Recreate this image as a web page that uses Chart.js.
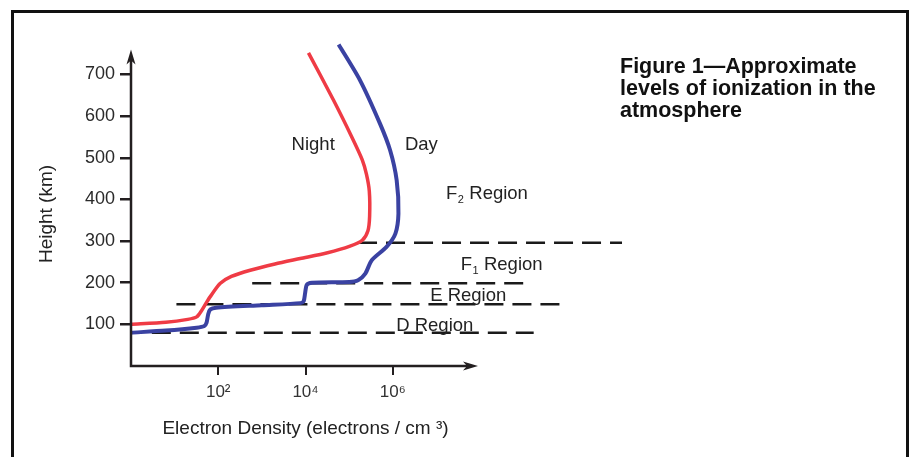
<!DOCTYPE html>
<html>
<head>
<meta charset="utf-8">
<script src="https://cdn.jsdelivr.net/npm/chart.js@4.4.1/dist/chart.umd.min.js"></script>
<style>
  html, body { margin: 0; padding: 0; background: #fff; }
  #wrap   { position: relative; width: 911px; height: 457px; overflow: hidden; }
  #frame  { position: absolute; left: 11px; top: 10px; width: 892px; height: 480px; border: 3px solid #111; }
  #chart  { position: absolute; left: 0; top: 0; }
</style>
</head>
<body>
<div id="wrap">
  <div id="frame"></div>
  <canvas id="chart" width="911" height="457"></canvas>
</div>
<script>
const FONT = '"Liberation Sans", Arial, Helvetica, sans-serif';
const INK  = '#231f20';

/* ─────────────────────────────────────────────
 * DATA  (electron density in electrons/cm³, height in km)
 * ───────────────────────────────────────────── */
const nightDensity = [1, 6.3, 20, 32, 42, 52, 65, 110, 200, 540, 2000, 7600, 3.2e4, 1.05e5, 2e5, 2.7e5, 2.95e5, 2.9e5, 2.5e5, 2e5, 1.15e5, 4.4e4, 1.17e4];
const nightHeight  = [100, 105, 112, 118, 134, 150, 166, 198, 215, 230, 245, 258, 272, 288, 302, 325, 360, 420, 460, 495, 550, 638, 752];

const dayDensity = [1, 6.3, 32, 48, 54, 59, 66, 89, 1000, 7600, 9100, 9800, 1.07e4, 1.4e4, 1e5, 1.6e5, 2.35e5, 3.3e5, 7.2e5, 1.15e6, 1.35e6, 1.23e6, 8.7e5, 5.1e5, 1.78e5, 5.75e4];
const dayHeight  = [80, 85, 92, 96, 104, 125, 136, 140, 146, 151, 156, 175, 195, 200, 202, 206, 222, 254, 286, 318, 366, 446, 518, 582, 686, 772];

// region boundaries (dashed): height, first and last density reached by the dashes
const boundaryHeight = [296, 199, 148, 80];
const boundaryStart  = [1.6e5, 600, 11, 3];
const boundaryEnd    = [1.8e11, 1.55e9, 7.6e9, 1.7e9];

const xTickValues = [1e2, 1e4, 1e6];
const xTickLabels = ['10²', '10⁴', '10⁶'];
const yTickValues = [100, 200, 300, 400, 500, 600, 700];

const titleLines = ['Figure 1—Approximate', 'levels of ionization in the', 'atmosphere'];

// text placed in data units
const curveNotes = [
  { text: 'Night', x: 4800,  y: 518 },
  { text: 'Day',   x: 1.9e6, y: 518 },
];
const regionNotes = [
  { main: 'F', sub: '2', rest: 'Region', x: 1.66e7, y: 400 },
  { main: 'F', sub: '1', rest: 'Region', x: 3.6e7,  y: 230 },
  { main: 'E Region', x: 7.2e6, y: 156 },
  { main: 'D Region', x: 1.2e6, y: 85 },
];

const toPoints = (xs, ys) => xs.map((v, i) => ({ x: v, y: ys[i] }));

/* ─────────────────────────────────────────────
 * DATASETS
 * ───────────────────────────────────────────── */
const datasets = [
  {
    label: 'Day',
    data: toPoints(dayDensity, dayHeight),
    borderColor: '#3a42a2',
    borderWidth: 4,
    tension: 0.25,
    order: 0,
  },
  {
    label: 'Night',
    data: toPoints(nightDensity, nightHeight),
    borderColor: '#ef3b45',
    borderWidth: 3.5,
    tension: 0.25,
    order: 0,
  },
];

boundaryHeight.forEach((h, i) => {
  datasets.push({
    label: 'boundary' + i,
    data: [{ x: boundaryStart[i], y: h }, { x: boundaryEnd[i], y: h }],
    borderColor: '#1a1a1a',
    borderWidth: 2.5,
    borderDash: [19, 9],
    tension: 0,
    order: 1,
  });
});

/* ─────────────────────────────────────────────
 * AXES + ANNOTATIONS
 * ───────────────────────────────────────────── */
const decorations = {
  id: 'decorations',
  afterDraw(chart) {
    const { ctx, scales: { x, y } } = chart;
    ctx.save();

    // axis lines with arrow heads
    const x0 = x.getPixelForValue(1);
    const y0 = y.getPixelForValue(0);
    const xTip = x.getPixelForValue(9e7);
    const yTip = y.getPixelForValue(760);
    ctx.strokeStyle = INK;
    ctx.fillStyle = INK;
    ctx.lineWidth = 2.5;
    ctx.beginPath();
    ctx.moveTo(x0 - 1.25, y0);
    ctx.lineTo(xTip - 8, y0);
    ctx.moveTo(x0, y0);
    ctx.lineTo(x0, yTip + 8);
    ctx.stroke();

    ctx.beginPath();
    ctx.moveTo(xTip, y0);
    ctx.lineTo(xTip - 15, y0 - 4.5);
    ctx.lineTo(xTip - 11, y0);
    ctx.lineTo(xTip - 15, y0 + 4.5);
    ctx.closePath();
    ctx.fill();

    ctx.beginPath();
    ctx.moveTo(x0, yTip);
    ctx.lineTo(x0 - 4.5, yTip + 15);
    ctx.lineTo(x0, yTip + 11);
    ctx.lineTo(x0 + 4.5, yTip + 15);
    ctx.closePath();
    ctx.fill();

    // curve names
    ctx.textAlign = 'left';
    ctx.textBaseline = 'alphabetic';
    ctx.fillStyle = '#222';
    ctx.font = `18.5px ${FONT}`;
    curveNotes.forEach(n => {
      ctx.fillText(n.text, x.getPixelForValue(n.x), y.getPixelForValue(n.y));
    });

    // region names (with subscripts)
    regionNotes.forEach(n => {
      const px = x.getPixelForValue(n.x);
      const py = y.getPixelForValue(n.y);
      ctx.font = `18.5px ${FONT}`;
      ctx.fillText(n.main, px, py);
      if (n.sub) {
        const w = ctx.measureText(n.main).width;
        ctx.font = `11px ${FONT}`;
        ctx.fillText(n.sub, px + w + 0.5, py + 4);
        ctx.font = `18.5px ${FONT}`;
        ctx.fillText(n.rest, px + w + 12, py);
      }
    });

    // figure caption
    ctx.fillStyle = '#111';
    ctx.font = `bold 21.5px ${FONT}`;
    titleLines.forEach((line, i) => ctx.fillText(line, 620, 73 + i * 22));

    ctx.restore();
  },
};

/* ─────────────────────────────────────────────
 * CHART
 * ───────────────────────────────────────────── */
new Chart(document.getElementById('chart'), {
  type: 'line',
  data: { datasets },
  options: {
    responsive: false,
    animation: false,
    layout: { padding: { top: 62, right: 431, bottom: 0, left: 0 } },
    elements: {
      point: { radius: 0 },
      line: { capBezierPoints: false, fill: false },
    },
    datasets: { line: { clip: false } },
    plugins: {
      legend: { display: false },
      tooltip: { enabled: false },
    },
    scales: {
      x: {
        type: 'logarithmic',
        min: 1,
        max: 1e8,
        afterBuildTicks: s => { s.ticks = xTickValues.map(v => ({ value: v })); },
        afterFit: s => { s.height = 91; },
        border: { display: false },
        grid: { drawOnChartArea: false, drawTicks: true, tickLength: 9, color: INK, lineWidth: 2 },
        ticks: {
          autoSkip: false,
          maxRotation: 0,
          padding: 7,
          color: '#333',
          font: { family: FONT, size: 17 },
          callback: (v, i) => xTickLabels[i],
        },
        title: {
          display: true,
          text: 'Electron Density (electrons / cm ³)',
          color: '#222',
          font: { family: FONT, size: 19 },
          padding: { top: 0, bottom: 16.5 },
        },
      },
      y: {
        type: 'linear',
        min: 0,
        max: 730,
        afterBuildTicks: s => { s.ticks = yTickValues.map(v => ({ value: v })); },
        afterFit: s => { s.width = 131; },
        border: { display: false },
        grid: { drawOnChartArea: false, drawTicks: true, tickLength: 11, color: INK, lineWidth: 2.5 },
        ticks: {
          padding: 5,
          color: '#2a2a2a',
          font: { family: FONT, size: 18 },
        },
        title: {
          display: true,
          text: 'Height (km)',
          color: '#222',
          font: { family: FONT, size: 19 },
          padding: { top: 35 },
        },
      },
    },
  },
  plugins: [decorations],
});
</script>
</body>
</html>
